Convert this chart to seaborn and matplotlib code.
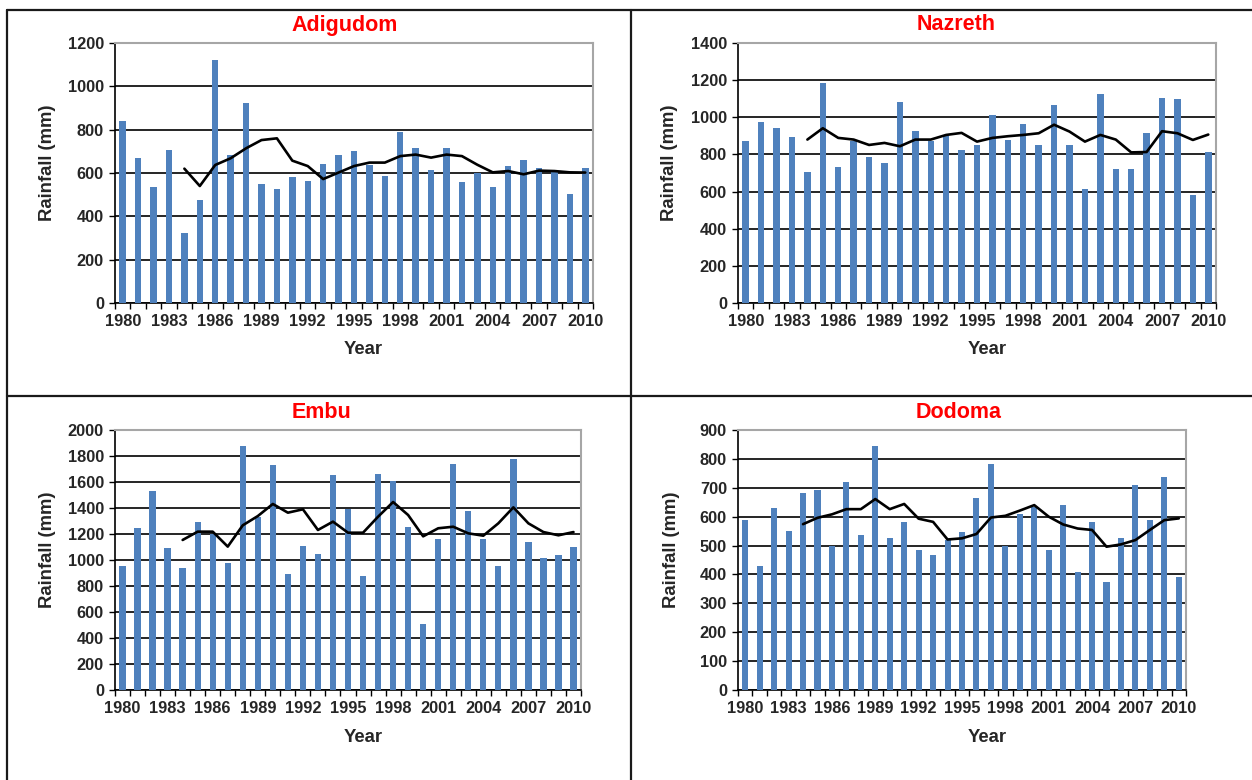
import matplotlib
matplotlib.use("Agg")
import matplotlib.pyplot as plt
import seaborn as sns
from matplotlib.lines import Line2D
from matplotlib.ticker import FixedLocator

# ---------------- data ----------------
years = list(range(1980, 2011))
ma_years = list(range(1984, 2011))
xtick_years = [1980, 1983, 1986, 1989, 1992, 1995, 1998, 2001, 2004, 2007, 2010]

adigudom_rain = [840, 670, 535, 705, 325, 475, 1120, 685, 925, 550, 525, 580, 565, 640, 685, 700,
                 635, 585, 790, 715, 615, 715, 560, 600, 535, 630, 660, 625, 610, 505, 625]
adigudom_ma = [620, 540, 637, 668, 714, 752, 760, 657, 632, 572, 602, 632, 648, 648, 678, 685,
               671, 685, 678, 638, 603, 609, 594, 611, 609, 603, 602]

nazreth_rain = [870, 975, 940, 895, 705, 1185, 730, 870, 785, 755, 1080, 925, 875, 900, 825, 850,
                1010, 880, 965, 850, 1065, 850, 615, 1125, 720, 720, 915, 1105, 1100, 580, 815]
nazreth_ma = [880, 941, 889, 880, 851, 862, 844, 880, 880, 905, 916, 869, 889, 898, 905, 914,
              960, 923, 869, 905, 880, 811, 813, 925, 914, 878, 907]

embu_rain = [955, 1245, 1530, 1090, 940, 1290, 1200, 975, 1880, 1330, 1730, 890, 1105, 1050, 1655,
             1390, 875, 1665, 1605, 1255, 505, 1165, 1740, 1380, 1165, 955, 1780, 1140, 1015, 1040, 1100]
embu_ma = [1154, 1218, 1218, 1103, 1267, 1338, 1431, 1364, 1390, 1231, 1295, 1210, 1210, 1333,
           1446, 1346, 1182, 1244, 1256, 1205, 1187, 1282, 1405, 1282, 1215, 1190, 1215]

dodoma_rain = [587, 429, 631, 552, 682, 693, 498, 721, 535, 845, 525, 581, 486, 468, 519, 547,
               666, 783, 499, 609, 635, 486, 642, 407, 581, 374, 525, 710, 587, 738, 390]
dodoma_ma = [574, 596, 608, 626, 626, 661, 626, 644, 593, 582, 521, 525, 540, 597, 603, 621,
             640, 600, 573, 559, 554, 496, 504, 519, 554, 588, 594]

titles = ["Adigudom", "Nazreth", "Embu", "Dodoma"]
y_max = [1200, 1400, 2000, 900]
y_step = [200, 200, 200, 100]

# ---------------- style ----------------
sns.set_theme(style="white")
plt.rcParams['font.family'] = ['Liberation Sans', 'DejaVu Sans']
plt.rcParams['font.weight'] = 'bold'

W, H = 1252, 780
fig = plt.figure(figsize=(W / 100, H / 100), dpi=100)
fig.patch.set_facecolor("white")

BAR = "#4F81BD"

# axes boxes in pixels (left, top, right, bottom)
boxes = [(115, 43, 593, 303), (738, 43, 1216, 303), (115, 430, 581, 690), (738, 430, 1186, 690)]
title_pos = [(345, 25), (956, 25), (321, 412), (959, 412)]
ylab_pos = [(47, 163), (670, 163), (47, 550), (672, 550)]
xlab_pos = [(363, 350), (987, 350), (363, 737), (987, 737)]

series = [(adigudom_rain, adigudom_ma), (nazreth_rain, nazreth_ma),
          (embu_rain, embu_ma), (dodoma_rain, dodoma_ma)]

for i, (rain, ma) in enumerate(series):
    l, t, r, b = boxes[i]
    ax = fig.add_axes([l / W, 1 - b / H, (r - l) / W, (b - t) / H])
    sns.barplot(x=years, y=rain, native_scale=True, width=0.42, color=BAR, saturation=1,
                ax=ax, zorder=3, linewidth=0)
    sns.lineplot(x=ma_years, y=ma, color="black", linewidth=1.9, ax=ax, zorder=4)

    ax.set_xlim(1979.5, 2010.5)
    ax.set_ylim(0, y_max[i])
    ax.set_yticks(list(range(0, y_max[i] + 1, y_step[i])))
    ax.set_xticks(xtick_years)
    ax.set_xticklabels([str(y) for y in xtick_years])
    ax.xaxis.set_minor_locator(FixedLocator([y + 0.5 for y in range(1979, 2011)]))
    ax.set_xlabel("")
    ax.set_ylabel("")

    ax.yaxis.grid(True, color="black", linewidth=1.2)
    ax.xaxis.grid(False)
    ax.set_axisbelow(True)

    for s in ["left", "bottom"]:
        ax.spines[s].set_color("black")
        ax.spines[s].set_linewidth(1.2)
    for s in ["top", "right"]:
        ax.spines[s].set_color("#A6A6A6")
        ax.spines[s].set_linewidth(1.5)

    ax.tick_params(axis="y", which="major", direction="out", length=4, width=1, color="black",
                   labelsize=11.8, pad=4, left=True)
    ax.tick_params(axis="x", which="major", length=0, labelsize=11.8, pad=8, bottom=True)
    ax.tick_params(axis="x", which="minor", direction="out", length=4, width=1, color="black",
                   bottom=True)
    for lab in ax.get_xticklabels() + ax.get_yticklabels():
        lab.set_fontweight("bold")

    tx, ty = title_pos[i]
    fig.text(tx / W, 1 - ty / H, titles[i], color="#FF0000", fontsize=15.5, fontweight="bold",
             ha="center", va="center")
    yx, yy = ylab_pos[i]
    fig.text(yx / W, 1 - yy / H, "Rainfall (mm)", rotation=90, fontsize=13.3, fontweight="bold",
             ha="center", va="center")
    xx, xy = xlab_pos[i]
    fig.text(xx / W, 1 - xy / H, "Year", fontsize=13.3, fontweight="bold", ha="center", va="center")

# table-like frame lines
frame_kw = dict(color="#1a1a1a", linewidth=1.6, transform=fig.transFigure)
fig.add_artist(Line2D([7 / W, 1], [1 - 9.5 / H, 1 - 9.5 / H], **frame_kw))
fig.add_artist(Line2D([7 / W, 7 / W], [1 - 9.5 / H, 0], **frame_kw))
fig.add_artist(Line2D([631 / W, 631 / W], [1 - 9.5 / H, 0], **frame_kw))
fig.add_artist(Line2D([7 / W, 1], [1 - 396 / H, 1 - 396 / H], **frame_kw))

fig.savefig("out.png", dpi=100, facecolor="white")
